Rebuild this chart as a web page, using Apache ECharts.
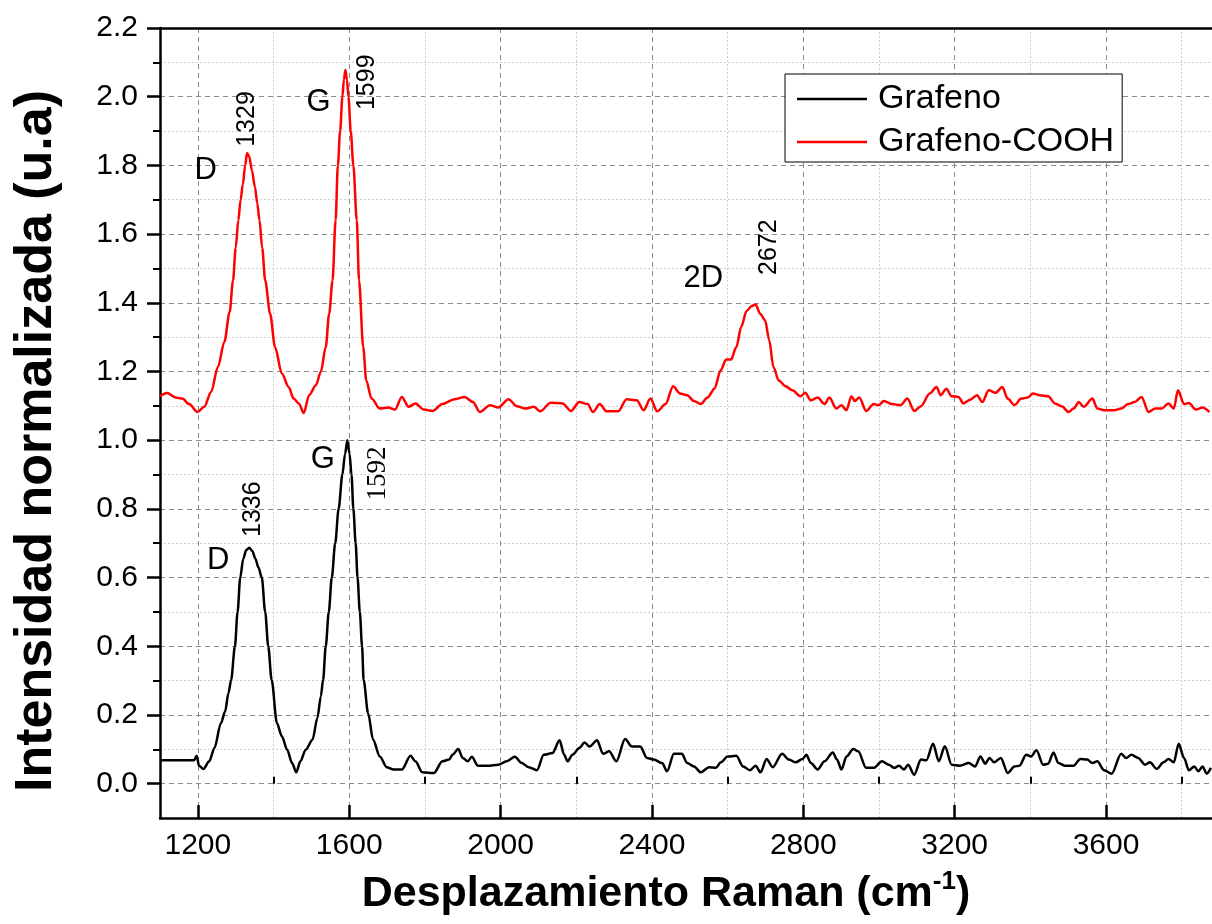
<!DOCTYPE html>
<html>
<head>
<meta charset="utf-8">
<script src="https://cdn.jsdelivr.net/npm/echarts@6/dist/echarts.min.js"></script>
<style>html,body{margin:0;padding:0;background:#fff;}#c{width:1212px;height:924px;}</style>
</head>
<body>
<div id="c"></div>
<script>
// ---- data ----
const seriesNames = ['Grafeno', 'Grafeno-COOH'];
const xTickValues  = [1200, 1600, 2000, 2400, 2800, 3200, 3600];
const xMinorValues = [1400, 1800, 2200, 2600, 3000, 3400, 3800];
const yTickValues  = [0, 0.2, 0.4, 0.6, 0.8, 1.0, 1.2, 1.4, 1.6, 1.8, 2.0, 2.2];
const yMinorValues = [0.1, 0.3, 0.5, 0.7, 0.9, 1.1, 1.3, 1.5, 1.7, 1.9, 2.1];
const grafenoX = [1100,1150,1190,1197,1203,1215,1230,1244,1261,1272,1281,1288,1298,1305,1312,1320,1328,1336,1344,1352,1360,1369,1378,1386,1395,1409,1422,1436,1449,1460,1471,1485,1503,1516,1525,1531,1538,1546,1554,1563,1572,1582,1589,1595,1601,1606,1611,1617,1622,1628,1634,1638,1650,1663,1681,1699,1717,1739,1762,1775,1793,1824,1846,1864,1873,1888,1900,1913,1924,1940,1967,1994,2016,2038,2056,2074,2096,2114,2137,2156,2168,2177,2190,2208,2222,2235,2255,2271,2287,2306,2329,2347,2369,2387,2405,2427,2440,2458,2479,2493,2511,2529,2551,2569,2582,2600,2623,2641,2659,2674,2687,2703,2719,2744,2762,2780,2798,2808,2820,2838,2856,2878,2889,2901,2914,2932,2945,2966,2986,3008,3026,3040,3053,3066,3077,3093,3111,3125,3143,3158,3174,3192,3214,3237,3254,3268,3281,3292,3304,3322,3340,3358,3371,3389,3402,3416,3434,3447,3461,3474,3492,3514,3532,3550,3564,3577,3595,3615,3640,3653,3667,3685,3703,3716,3734,3752,3765,3779,3792,3806,3819,3833,3844,3855,3866,3877];
const grafenoY = [0.068,0.068,0.068,0.081,0.052,0.043,0.065,0.104,0.176,0.210,0.264,0.302,0.40,0.50,0.60,0.655,0.68,0.687,0.677,0.655,0.63,0.60,0.50,0.40,0.302,0.176,0.138,0.099,0.060,0.033,0.065,0.099,0.128,0.191,0.254,0.302,0.40,0.50,0.60,0.70,0.80,0.90,0.96,1.0,0.96,0.90,0.80,0.70,0.60,0.50,0.40,0.302,0.205,0.128,0.079,0.048,0.041,0.041,0.081,0.065,0.033,0.031,0.065,0.070,0.084,0.101,0.075,0.065,0.078,0.052,0.052,0.055,0.065,0.078,0.060,0.048,0.039,0.084,0.089,0.126,0.084,0.065,0.084,0.104,0.120,0.108,0.126,0.087,0.094,0.065,0.130,0.108,0.108,0.075,0.070,0.060,0.036,0.087,0.087,0.060,0.050,0.033,0.048,0.046,0.062,0.079,0.081,0.050,0.039,0.052,0.033,0.072,0.048,0.087,0.070,0.062,0.072,0.084,0.060,0.041,0.065,0.091,0.070,0.041,0.079,0.101,0.094,0.046,0.046,0.065,0.055,0.046,0.052,0.041,0.055,0.026,0.070,0.068,0.116,0.065,0.109,0.055,0.052,0.060,0.050,0.079,0.058,0.075,0.062,0.075,0.031,0.050,0.052,0.084,0.079,0.097,0.055,0.058,0.091,0.060,0.052,0.052,0.072,0.070,0.060,0.065,0.039,0.029,0.087,0.075,0.084,0.075,0.055,0.062,0.043,0.062,0.072,0.062,0.116,0.075,0.039,0.050,0.036,0.050,0.029,0.046];
const coohX = [1100,1119,1141,1159,1177,1199,1217,1235,1253,1270,1284,1293,1300,1307,1313,1319,1325,1330,1336,1343,1351,1357,1363,1370,1378,1391,1404,1422,1440,1453,1467,1480,1494,1512,1525,1538,1547,1556,1564,1570,1576,1582,1586,1590,1594,1598,1604,1611,1620,1626,1637,1645,1659,1681,1704,1721,1739,1757,1775,1797,1820,1846,1878,1905,1927,1945,1972,1994,2021,2043,2065,2088,2105,2132,2164,2186,2208,2230,2244,2262,2280,2311,2333,2360,2378,2396,2414,2436,2456,2474,2493,2511,2529,2547,2565,2582,2596,2609,2623,2636,2650,2663,2674,2686,2699,2710,2721,2735,2753,2771,2793,2805,2820,2838,2856,2869,2887,2901,2914,2927,2936,2948,2966,2986,2999,3013,3035,3057,3075,3093,3111,3134,3152,3163,3178,3192,3210,3223,3241,3259,3273,3290,3308,3326,3340,3358,3376,3393,3407,3425,3447,3465,3483,3501,3514,3528,3541,3564,3577,3595,3622,3640,3658,3676,3694,3712,3730,3747,3765,3779,3790,3806,3819,3837,3855,3873];
const coohY = [1.128,1.137,1.124,1.121,1.105,1.082,1.097,1.140,1.213,1.286,1.373,1.465,1.56,1.64,1.70,1.745,1.80,1.836,1.825,1.785,1.736,1.69,1.64,1.56,1.465,1.368,1.271,1.194,1.155,1.121,1.107,1.079,1.131,1.160,1.199,1.271,1.368,1.465,1.64,1.80,1.90,2.00,2.05,2.078,2.05,2.00,1.90,1.80,1.64,1.465,1.271,1.174,1.121,1.092,1.095,1.089,1.126,1.097,1.107,1.089,1.085,1.105,1.119,1.126,1.111,1.082,1.102,1.095,1.119,1.099,1.092,1.097,1.084,1.109,1.107,1.085,1.111,1.105,1.082,1.105,1.084,1.084,1.119,1.116,1.087,1.121,1.084,1.105,1.157,1.136,1.131,1.114,1.105,1.124,1.150,1.204,1.235,1.235,1.271,1.330,1.376,1.390,1.395,1.368,1.349,1.291,1.213,1.174,1.157,1.145,1.128,1.138,1.116,1.124,1.105,1.124,1.092,1.102,1.087,1.128,1.114,1.124,1.085,1.105,1.102,1.114,1.105,1.102,1.121,1.085,1.099,1.136,1.155,1.131,1.150,1.128,1.126,1.107,1.118,1.131,1.111,1.145,1.138,1.155,1.121,1.102,1.121,1.124,1.136,1.131,1.128,1.107,1.099,1.082,1.092,1.111,1.097,1.121,1.092,1.087,1.087,1.092,1.105,1.111,1.126,1.082,1.092,1.092,1.107,1.092,1.145,1.105,1.108,1.089,1.095,1.082];
// annotations: text, x, y (data coords)
const annText = ['D','1329','G','1599','2D','2672','D','1336','G','1592'];
const annX    = [1221,1331,1519,1646,2536,2710,1254,1347,1530,1675];
const annY    = [1.785,1.935,1.983,2.042,1.472,1.562,0.651,0.799,0.944,0.903];
const annRot  = [false,true,false,true,false,true,false,true,false,true];
const annSerif= [false,false,false,false,false,false,false,false,false,true];
const xTitle = 'Desplazamiento Raman (cm';
const yTitle = 'Intensidad normalizada (u.a)';

const FONT = "'Liberation Sans', Arial, sans-serif";
const chart = echarts.init(document.getElementById('c'), null, {renderer: 'canvas'});
const zip = (xs, ys) => xs.map((x, i) => [x, ys[i]]);
const AX = {color: '#000', width: 2.5};
const MAJOR_GRID = {color: '#8c8c8c', width: 1, type: [5, 4]};
const MINOR_GRID = {color: '#cfcfcf', width: 1, type: [2, 2]};

const option = {
  animation: false,
  backgroundColor: '#fff',
  grid: {left: 160, right: 0, top: 28, bottom: 106, containLabel: false, outerBoundsMode: 'none'},
  legend: {
    orient: 'vertical', left: 785, top: 74,
    padding: [8, 8, 3, 12],
    icon: 'rect', itemWidth: 70, itemHeight: 2.5, itemGap: 9,
    borderColor: '#000', borderWidth: 1, backgroundColor: '#fff',
    textStyle: {fontSize: 34, lineHeight: 34, fontFamily: FONT, color: '#000', padding: [0, 0, 0, 6]},
    data: seriesNames
  },
  xAxis: [{
    type: 'value', min: 1100, max: 3880, interval: 100,
    axisLine: {show: true, onZero: false, lineStyle: AX},
    axisTick: {show: true, inside: true, length: 13, customValues: xTickValues, lineStyle: AX},
    axisLabel: {fontSize: 30, fontFamily: FONT, color: '#000', margin: 13, customValues: xTickValues,
      formatter: v => String(v)},
    splitLine: {show: true, lineStyle: MAJOR_GRID},
    name: '{a|' + xTitle + '}{s|-1}{a|)}', nameLocation: 'middle', nameGap: 51,
    nameTextStyle: {
      padding: [0, 40, 0, 0],
      rich: {
        a: {fontSize: 43, fontWeight: 'bold', fontFamily: FONT, color: '#000', lineHeight: 50},
        s: {fontSize: 26, fontWeight: 'bold', fontFamily: FONT, color: '#000', verticalAlign: 'top', lineHeight: 50, padding: [0, 0, 24, 0]}
      }
    }
  }, {
    type: 'value', position: 'top', min: 1100, max: 3880, interval: 100,
    axisLine: {show: true, onZero: false, lineStyle: AX},
    axisTick: {show: false}, axisLabel: {show: false}, splitLine: {show: false}
  }, {
    type: 'value', position: 'bottom', offset: 0, min: 1100, max: 3880, interval: 100,
    axisLine: {show: false},
    axisTick: {show: true, inside: true, length: 7, customValues: xMinorValues, lineStyle: {color: '#000', width: 2}},
    axisLabel: {show: false},
    splitLine: {show: true, lineStyle: MINOR_GRID}
  }],
  yAxis: [{
    type: 'value', position: 'left', min: -0.1, max: 2.2, interval: 0.1,
    axisLine: {show: true, onZero: false, lineStyle: AX},
    axisTick: {show: true, inside: false, length: 13, customValues: yTickValues, lineStyle: AX},
    axisLabel: {fontSize: 30, fontFamily: FONT, color: '#000', margin: 22, customValues: yTickValues,
      formatter: v => Number(v).toFixed(1)},
    splitLine: {show: true, lineStyle: MAJOR_GRID},
    name: yTitle, nameLocation: 'middle', nameGap: 97, nameRotate: 90,
    nameTextStyle: {fontSize: 52, fontWeight: 'bold', fontFamily: FONT, color: '#000', padding: [0, 36, 0, 0]}
  }, {
    type: 'value', position: 'left', offset: 0, min: -0.1, max: 2.2, interval: 0.1,
    axisLine: {show: false},
    axisTick: {show: true, inside: false, length: 7, customValues: yMinorValues, lineStyle: {color: '#000', width: 2}},
    axisLabel: {show: false},
    splitLine: {show: true, lineStyle: MINOR_GRID}
  }],
  series: [{
    name: seriesNames[0], type: 'line', data: zip(grafenoX, grafenoY),
    xAxisIndex: 0, yAxisIndex: 0,
    symbol: 'none', smooth: 0.3, smoothMonotone: 'x', z: 5,
    lineStyle: {color: '#000', width: 2.5}, itemStyle: {color: '#000'}
  }, {
    name: seriesNames[1], type: 'line', data: zip(coohX, coohY),
    xAxisIndex: 0, yAxisIndex: 0,
    symbol: 'none', smooth: 0.3, smoothMonotone: 'x', z: 5,
    lineStyle: {color: '#ff0000', width: 2.5}, itemStyle: {color: '#ff0000'}
  }]
};
chart.setOption(option);

const graphics = annText.map((t, i) => {
  const p = chart.convertToPixel({xAxisIndex: 0, yAxisIndex: 0}, [annX[i], annY[i]]);
  const isLetter = !annRot[i];
  return {
    type: 'text', x: p[0], y: p[1], rotation: annRot[i] ? Math.PI / 2 : 0, z: 100,
    style: {
      text: t, fill: '#000', align: 'center', verticalAlign: 'middle',
      fontSize: isLetter ? 31 : (annSerif[i] ? 27 : 25),
      fontFamily: annSerif[i] ? "'Liberation Serif', 'Times New Roman', serif" : FONT
    }
  };
});
chart.setOption({graphic: graphics});
</script>
</body>
</html>
